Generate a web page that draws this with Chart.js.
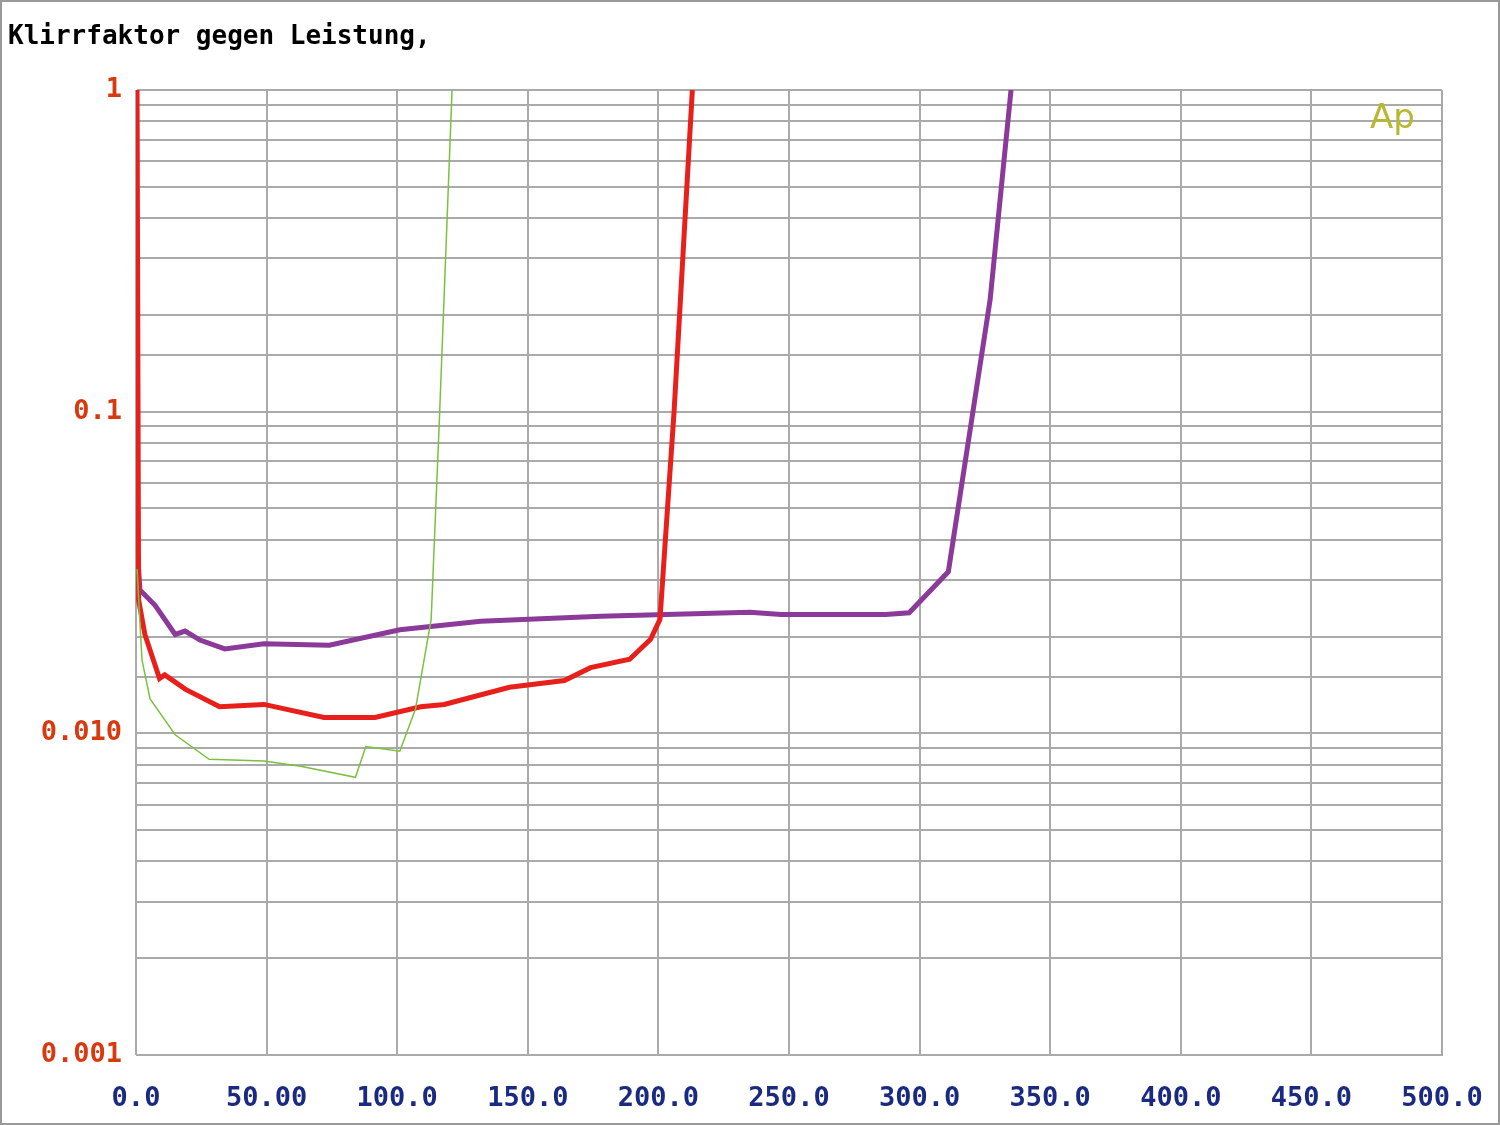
<!DOCTYPE html>
<html><head><meta charset="utf-8">
<script src="https://cdn.jsdelivr.net/npm/chart.js@4/dist/chart.umd.min.js"></script>
<style>body{margin:0;background:#fff}canvas{display:block}</style>
</head><body><canvas id="c" width="1500" height="1125"></canvas>
<script>
const titleText = "Klirrfaktor gegen Leistung,";
const xTickLabels = ["0.0","50.00","100.0","150.0","200.0","250.0","300.0","350.0","400.0","450.0","500.0"];
const yTickLabels = {"1":"1","0.1":"0.1","0.01":"0.010","0.001":"0.001"};
const purpleX = [0.4,1.5,7.3,15,18.8,24.5,34,49,74,101,132,178,235,247,287,296,311,327,335];
const purpleY = [0.0386,0.0279,0.025,0.0203,0.0208,0.0195,0.0183,0.019,0.0188,0.021,0.0223,0.0231,0.0238,0.0234,0.0234,0.0237,0.0318,0.223,1];
const redX = [0.4,1.0,3.4,9,11,19,32,49,72,91.5,109,118,143,164,174,189,197,200.6,206,213];
const redY = [1,0.026,0.0203,0.0148,0.0152,0.0137,0.0121,0.0123,0.0112,0.0112,0.0121,0.0123,0.0139,0.0146,0.016,0.017,0.0196,0.0226,0.1,1];
const greenX = [0.4,2.3,5.4,15,28,49,63,84,88,101,107,113,116,121];
const greenY = [0.0324,0.0169,0.0128,0.0099,0.0083,0.0082,0.0079,0.0073,0.0091,0.0088,0.0119,0.0226,0.088,1];
const pts=(xs,ys)=>xs.map((x,i)=>({x,y:ys[i]}));
const deco={id:'deco',afterDraw(ch){const c=ch.ctx;c.save();
 c.font='bold 26px "DejaVu Sans Mono", monospace';c.fillStyle='#000';c.textBaseline='top';c.fillText(titleText,8,24);
 c.font='34px "DejaVu Sans", sans-serif';c.fillStyle='#b8b830';c.fillText('Ap',1370,102);
 c.strokeStyle='#999';c.lineWidth=2;c.strokeRect(1,1,1498,1123);c.restore();}};
new Chart(document.getElementById('c'),{type:'line',
 data:{datasets:[
  {data:pts(greenX,greenY),borderColor:'#7cc040',borderWidth:1.5,pointRadius:0,tension:0},
  {data:pts(redX,redY),borderColor:'#e8201c',borderWidth:5,pointRadius:0,tension:0},
  {data:pts(purpleX,purpleY),borderColor:'#8b3a9a',borderWidth:5,pointRadius:0,tension:0}]},
 options:{responsive:false,devicePixelRatio:1,animation:false,
  layout:{padding:{top:90,right:58,left:0,bottom:0}},
  plugins:{legend:{display:false},tooltip:{enabled:false}},
  scales:{
   x:{type:'linear',min:0,max:500,border:{color:'#aaa'},grid:{color:'#aaa',lineWidth:2,drawTicks:false},
      afterFit(s){s.height=70;s.paddingRight=0;s.paddingLeft=0;},
      ticks:{stepSize:50,padding:28,color:'#1a2a80',font:{family:'"DejaVu Sans Mono", monospace',size:27,weight:'bold'},
        callback:(v)=>xTickLabels[Math.round(v/50)]}},
   y:{type:'logarithmic',min:0.001,max:1,border:{color:'#aaa'},grid:{color:'#aaa',lineWidth:2,drawTicks:false},
      afterFit(s){s.width=136;s.paddingTop=0;s.paddingBottom=0;},
      ticks:{padding:14,autoSkip:false,color:'#d83a10',font:{family:'"DejaVu Sans Mono", monospace',size:27,weight:'bold'},
        callback:(v)=>{for(const k in yTickLabels){if(Math.abs(v-Number(k))<1e-9)return yTickLabels[k];}return '';}}}
  }},plugins:[deco]});
</script></body></html>
